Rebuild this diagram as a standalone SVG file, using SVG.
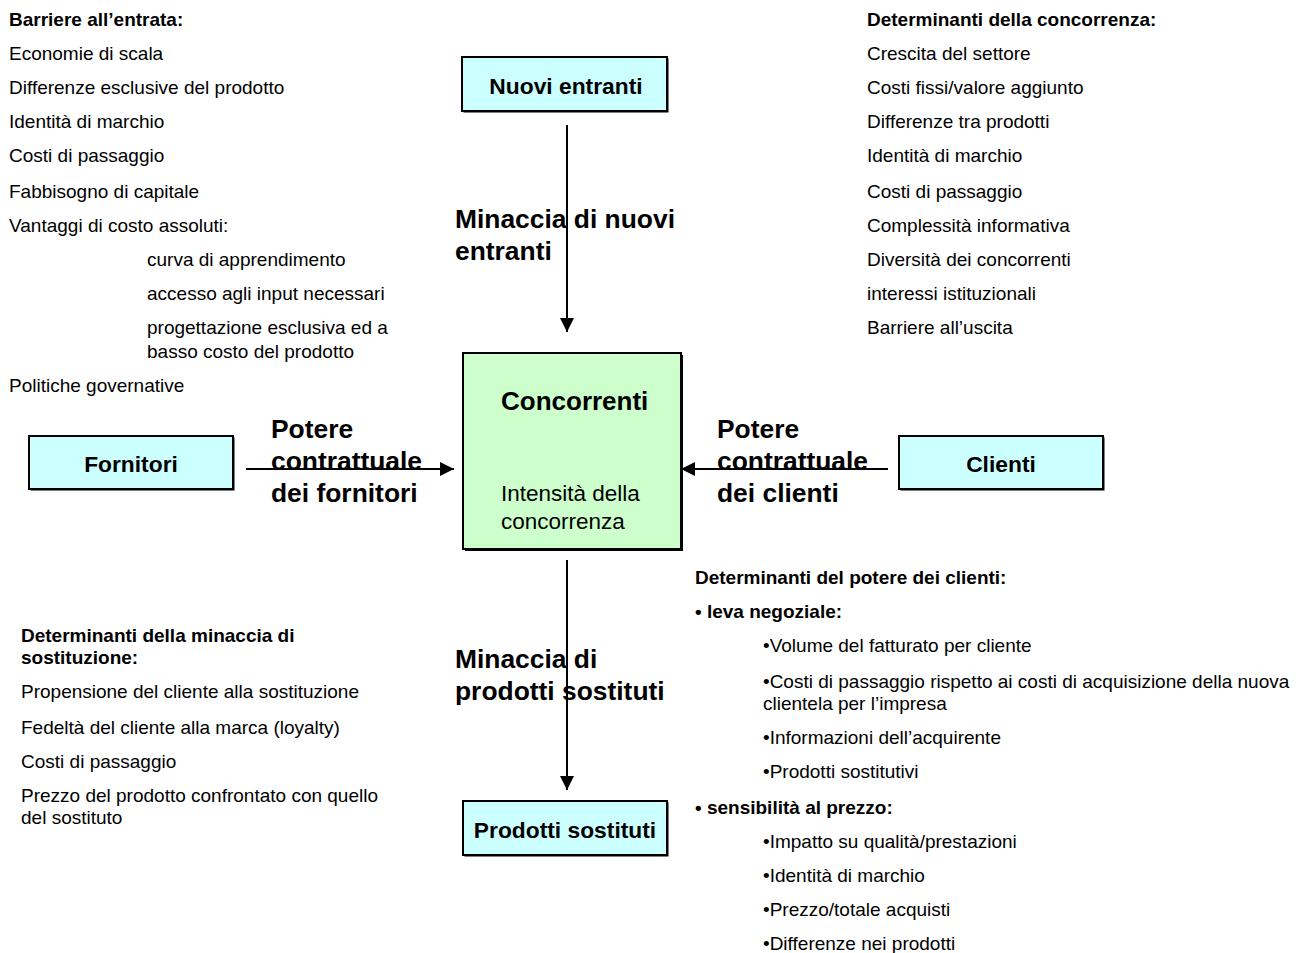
<svg xmlns="http://www.w3.org/2000/svg" width="1303" height="953" viewBox="0 0 1303 953">
<style>
.t{font-family:"Liberation Sans",Arial,sans-serif;font-size:19px;fill:#000}
.b{font-weight:bold}
.lbl{font-family:"Liberation Sans",Arial,sans-serif;font-size:22.8px;font-weight:bold;fill:#000;text-anchor:middle}
.big{font-family:"Liberation Sans",Arial,sans-serif;font-size:26.4px;font-weight:bold;fill:#000}
.box{fill:#CCFFFF;stroke:#000;stroke-width:2}
.sh{fill:#000}
.conn{stroke:#000;stroke-width:2;fill:none}
</style>
<defs>
<marker id="ah" viewBox="0 0 14 14" refX="14" refY="7" markerWidth="14" markerHeight="14" markerUnits="userSpaceOnUse" orient="auto">
<path d="M0,0 L14,7 L0,14 Z" fill="#000"/>
</marker>
</defs>
<rect width="1303" height="953" fill="#fff"/>

<g id="connectors">
<line class="conn" x1="567" y1="125" x2="567" y2="332" marker-end="url(#ah)"/>
<line class="conn" x1="567" y1="560" x2="567" y2="790" marker-end="url(#ah)"/>
<line class="conn" x1="246" y1="469" x2="454" y2="469" marker-end="url(#ah)"/>
<line class="conn" x1="888" y1="469" x2="681" y2="469" marker-end="url(#ah)"/>
</g>

<g id="nuovi-entranti">
<rect class="sh" x="463.5" y="58.5" width="205" height="54"/>
<rect class="box" x="462" y="57" width="205" height="54"/>
<text class="lbl" x="566" y="94">Nuovi entranti</text>
</g>

<g id="concorrenti">
<rect class="sh" x="465" y="355" width="218" height="196"/>
<rect x="463" y="353" width="218" height="196" fill="#CCFFCC" stroke="#000" stroke-width="2"/>
<text class="big" x="501" y="410" style="font-size:26px">Concorrenti</text>
<text class="t" x="501" y="501" style="font-size:22.5px">Intensità della</text>
<text class="t" x="501" y="529" style="font-size:22.5px">concorrenza</text>
</g>

<g id="fornitori">
<rect class="sh" x="30.5" y="437.5" width="204" height="53"/>
<rect class="box" x="29" y="436" width="204" height="53"/>
<text class="lbl" x="131" y="472">Fornitori</text>
</g>

<g id="clienti">
<rect class="sh" x="900.5" y="437.5" width="204" height="53"/>
<rect class="box" x="899" y="436" width="204" height="53"/>
<text class="lbl" x="1001" y="472">Clienti</text>
</g>

<g id="prodotti-sostituti">
<rect class="sh" x="464.5" y="802.5" width="204" height="54"/>
<rect class="box" x="463" y="801" width="204" height="54"/>
<text class="lbl" x="565" y="838">Prodotti sostituti</text>
</g>

<g id="labels">
<text class="big" x="455" y="228">Minaccia di nuovi</text>
<text class="big" x="455" y="260">entranti</text>
<text class="big" x="271" y="438">Potere</text>
<text class="big" x="271" y="470">contrattuale</text>
<text class="big" x="271" y="502">dei fornitori</text>
<text class="big" x="717" y="438">Potere</text>
<text class="big" x="717" y="470">contrattuale</text>
<text class="big" x="717" y="502">dei clienti</text>
<text class="big" x="455" y="668">Minaccia di</text>
<text class="big" x="455" y="700">prodotti sostituti</text>
</g>

<g id="barriere">
<text class="t b" x="9" y="26">Barriere all’entrata:</text>
<text class="t" x="9" y="60">Economie di scala</text>
<text class="t" x="9" y="94">Differenze esclusive del prodotto</text>
<text class="t" x="9" y="128">Identità di marchio</text>
<text class="t" x="9" y="162">Costi di passaggio</text>
<text class="t" x="9" y="198">Fabbisogno di capitale</text>
<text class="t" x="9" y="232">Vantaggi di costo assoluti:</text>
<text class="t" x="147" y="266">curva di apprendimento</text>
<text class="t" x="147" y="300">accesso agli input necessari</text>
<text class="t" x="147" y="334">progettazione esclusiva ed a</text>
<text class="t" x="147" y="358">basso costo del prodotto</text>
<text class="t" x="9" y="392">Politiche governative</text>
</g>

<g id="determinanti-concorrenza">
<text class="t b" x="867" y="26">Determinanti della concorrenza:</text>
<text class="t" x="867" y="60">Crescita del settore</text>
<text class="t" x="867" y="94">Costi fissi/valore aggiunto</text>
<text class="t" x="867" y="128">Differenze tra prodotti</text>
<text class="t" x="867" y="162">Identità di marchio</text>
<text class="t" x="867" y="198">Costi di passaggio</text>
<text class="t" x="867" y="232">Complessità informativa</text>
<text class="t" x="867" y="266">Diversità dei concorrenti</text>
<text class="t" x="867" y="300">interessi istituzionali</text>
<text class="t" x="867" y="334">Barriere all’uscita</text>
</g>

<g id="determinanti-sostituzione">
<text class="t b" x="21" y="642">Determinanti della minaccia di</text>
<text class="t b" x="21" y="664">sostituzione:</text>
<text class="t" x="21" y="698">Propensione del cliente alla sostituzione</text>
<text class="t" x="21" y="734">Fedeltà del cliente alla marca (loyalty)</text>
<text class="t" x="21" y="768">Costi di passaggio</text>
<text class="t" x="21" y="802">Prezzo del prodotto confrontato con quello</text>
<text class="t" x="21" y="824">del sostituto</text>
</g>

<g id="determinanti-clienti">
<text class="t b" x="695" y="584">Determinanti del potere dei clienti:</text>
<text class="t b" x="695" y="618">• leva negoziale:</text>
<text class="t" x="763" y="652">•Volume del fatturato per cliente</text>
<text class="t" x="763" y="688">•Costi di passaggio rispetto ai costi di acquisizione della nuova</text>
<text class="t" x="763" y="710">clientela per l’impresa</text>
<text class="t" x="763" y="744">•Informazioni dell’acquirente</text>
<text class="t" x="763" y="778">•Prodotti sostitutivi</text>
<text class="t b" x="695" y="814">• sensibilità al prezzo:</text>
<text class="t" x="763" y="848">•Impatto su qualità/prestazioni</text>
<text class="t" x="763" y="882">•Identità di marchio</text>
<text class="t" x="763" y="916">•Prezzo/totale acquisti</text>
<text class="t" x="763" y="950">•Differenze nei prodotti</text>
</g>
</svg>
